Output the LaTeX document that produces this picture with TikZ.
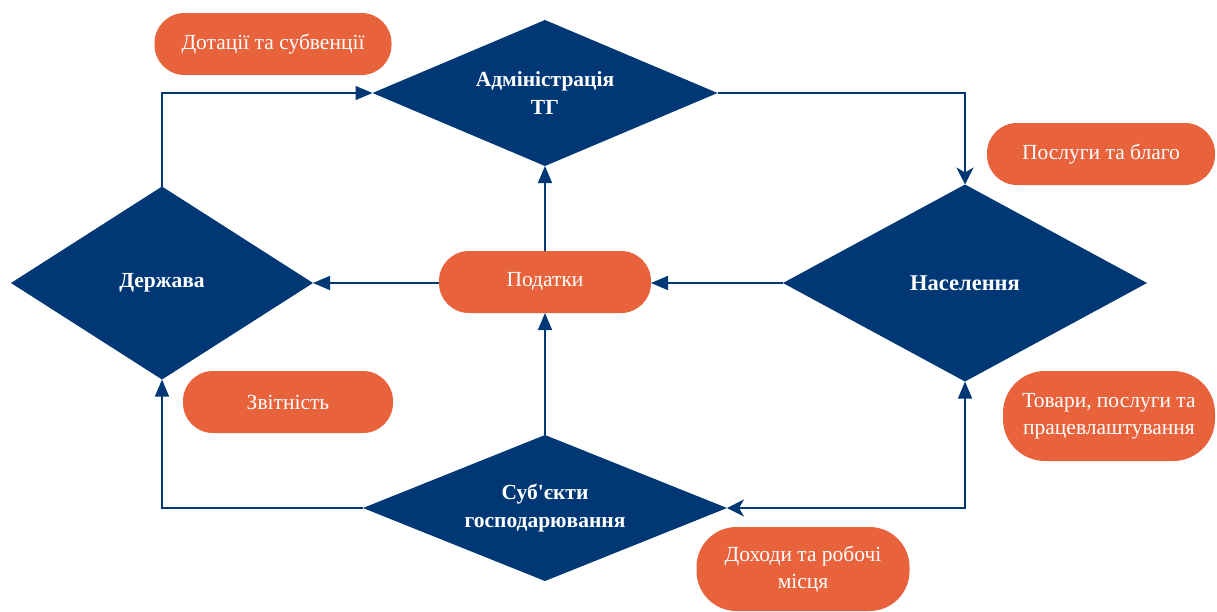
\documentclass[tikz,border=0pt]{standalone}
\usepackage{fontspec}
\setmainfont{Liberation Serif}
\newfontfamily\aposf{Liberation Serif}
\usetikzlibrary{shapes.geometric,arrows.meta}
\definecolor{navy}{RGB}{0,56,117}
\definecolor{orng}{RGB}{232,98,60}
\tikzset{
  dia/.style={diamond, fill=navy, draw=none, inner sep=0pt, outer sep=0pt, text=white, align=center, font=\fontsize{21.5}{28}\selectfont\bfseries},
  pill/.style={rectangle, fill=orng, draw=none, rounded corners=30pt, inner sep=0pt, outer sep=0pt, text=white, align=center, font=\fontsize{21.5}{27}\selectfont},
  conn/.style={draw=navy, line width=1.4pt, -{Triangle[length=17pt,width=14pt]}},
  sconn/.style={draw=navy, line width=1.4pt, -{Stealth[length=17pt,width=17pt,inset=5pt]}},
}
\begin{document}
\begin{tikzpicture}[x=1pt,y=-1pt]
\useasboundingbox (0,0) rectangle (1217,611);
% diamonds
\node[dia, minimum width=345pt, minimum height=146pt, aspect=2.36] (admin) at (545,93) {Адміністрація\\ТГ};
\node[dia, minimum width=302pt, minimum height=193pt, aspect=1.56] (derz) at (162,283) {Держава};
\node[dia, minimum width=364pt, minimum height=197pt, aspect=1.85, font=\fontsize{22.5}{28}\selectfont\bfseries] (nas) at (965,283) {Населення};
\node[dia, minimum width=364pt, minimum height=146pt, aspect=2.5] (sub) at (545,508) {Суб{\aposf'}єкти\\господарювання};
% pills
\node[pill, minimum width=237pt, minimum height=62pt] (dot) at (273,44) {Дотації та субвенції};
\node[pill, minimum width=228pt, minimum height=62pt] (posl) at (1101,154) {Послуги та благо};
\node[pill, minimum width=212pt, minimum height=62pt] (pod) at (545,282) {Податки};
\node[pill, minimum width=210pt, minimum height=62pt] (zvit) at (288,402) {Звітність};
\node[pill, minimum width=212pt, minimum height=90pt, rounded corners=42pt] (tov) at (1109,416) {Товари, послуги та\\працевлаштування};
\node[pill, minimum width=213pt, minimum height=84pt, rounded corners=40pt] (dox) at (803,569) {Доходи та робочі\\місця};
% connectors
\draw[conn] (derz.north) |- (admin.west);
\draw[sconn] (admin.east) -| (nas.north);
\draw[conn] (nas.west) -- (nas.west -| pod.east);
\draw[conn] (pod.west |- derz.east) -- (derz.east);
\draw[conn] (pod.north) -- (admin.south);
\draw[conn] (sub.north) -- (pod.south);
\draw[conn] (sub.west) -| (derz.south);
\draw[draw=navy, line width=1.4pt, {Triangle[length=17pt,width=14pt]}-{Stealth[length=17pt,width=17pt,inset=5pt]}] (nas.south) |- (sub.east);
\end{tikzpicture}
\end{document}
